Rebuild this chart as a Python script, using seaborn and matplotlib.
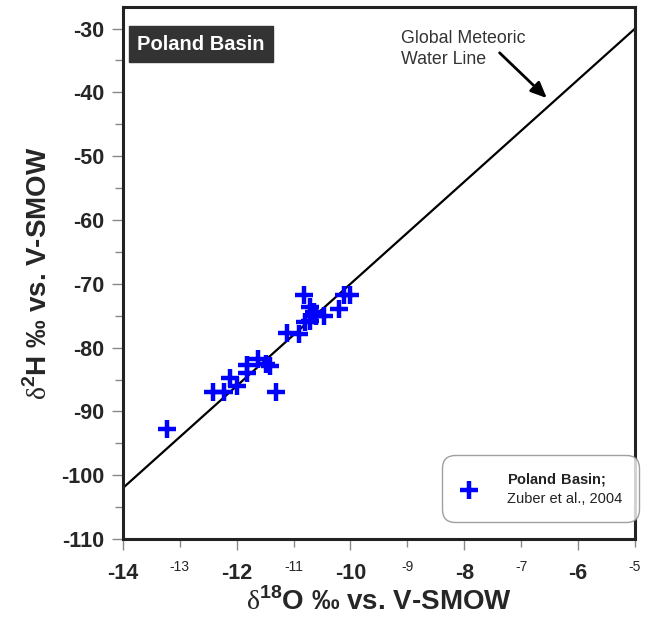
import matplotlib
matplotlib.use("Agg")
import matplotlib.pyplot as plt
import seaborn as sns
import pandas as pd

# d18O / d2H values (Poland Basin, Zuber et al., 2004)
d18o = [-13.23, -12.42, -12.23, -12.11, -12.00, -11.81, -11.81, -11.62, -11.49,
        -11.41, -11.31, -11.12, -10.90, -10.81, -10.71, -10.80, -10.71, -10.64,
        -10.61, -10.46, -10.20, -10.11, -10.00]
d2h = [-92.8, -86.9, -86.9, -84.7, -86.0, -82.7, -84.0, -81.7, -82.6,
       -82.9, -86.9, -77.7, -77.9, -71.8, -73.6, -76.0, -75.8, -74.4,
       -75.0, -75.0, -73.9, -71.8, -71.8]

# global meteoric water line end points
gmwl_x = [-14, -5]
gmwl_y = [-102, -30]

major_x = [-14, -12, -10, -8, -6]
minor_x = [-13, -11, -9, -7, -5]
major_y = [-110, -100, -90, -80, -70, -60, -50, -40, -30]
minor_y = [-105, -95, -85, -75, -65, -55, -45, -35]

df = pd.DataFrame({"d18O": d18o, "d2H": d2h})
line = pd.DataFrame({"x": gmwl_x, "y": gmwl_y})

sns.set_theme(style="white")
plt.rcParams["font.family"] = ["Liberation Sans", "DejaVu Sans"]
plt.rcParams["mathtext.fontset"] = "custom"
plt.rcParams["mathtext.bf"] = "Liberation Sans:bold"
plt.rcParams["mathtext.rm"] = "Liberation Serif"

fig = plt.figure(figsize=(6.5, 6.24), dpi=100)
ax = fig.add_axes([0.189, 0.136, 0.788, 0.853])

sns.lineplot(data=line, x="x", y="y", color="black", linewidth=1.6, ax=ax)
sns.scatterplot(data=df, x="d18O", y="d2H", marker="+", s=170, linewidth=3.2,
                color="#0000ff", ax=ax, zorder=3,
                label=r"$\bf{Poland\ Basin;}$" + "\nZuber et al., 2004")

ax.set_xlim(-14, -5)
ax.set_ylim(-110, -26.6)

ax.set_xticks(major_x)
ax.set_xticklabels([str(v) for v in major_x], fontsize=15.5, fontweight="bold")
ax.set_xticks(minor_x, minor=True)
ax.set_xticklabels([str(v) for v in minor_x], minor=True, fontsize=10)
ax.set_yticks(major_y)
ax.set_yticklabels([str(v) for v in major_y], fontsize=15.5, fontweight="bold")
ax.set_yticks(minor_y, minor=True)

ax.tick_params(axis="both", which="major", direction="out", length=8, width=1,
               color="#888888", bottom=True, left=True, pad=5.5)
ax.tick_params(axis="both", which="minor", direction="out", length=6, width=1,
               color="#888888", bottom=True, left=True)
ax.tick_params(axis="x", which="major", pad=9)
ax.tick_params(axis="x", which="minor", pad=9)

for s in ax.spines.values():
    s.set_linewidth(2.2)
    s.set_color("#222222")

ax.set_xlabel(r"$\mathrm{\delta}^{\mathbf{18}}$O ‰ vs. V-SMOW", fontsize=20,
              fontweight="bold", labelpad=3)
ax.set_ylabel(r"$\mathrm{\delta}^{\mathbf{2}}$H ‰ vs. V-SMOW", fontsize=20,
              fontweight="bold", labelpad=6)

ax.text(0.028, 0.93, "Poland Basin", transform=ax.transAxes, fontsize=14.5,
        fontweight="bold", color="white", va="center", ha="left",
        bbox=dict(boxstyle="square,pad=0.42", fc="#333333", ec="#333333"))

ax.text(-9.11, -33.2, "Global Meteoric\nWater Line", fontsize=12.8,
        color="#333333", ha="left", va="center", linespacing=1.25)
ax.annotate("", xy=(-6.55, -40.9), xytext=(-7.38, -33.8),
            arrowprops=dict(arrowstyle="-|>,head_length=0.8,head_width=0.35",
                            color="black", lw=2, shrinkA=0, shrinkB=0))

leg = ax.legend(loc="lower right", bbox_to_anchor=(1.01, 0.03), fontsize=10.5,
                frameon=True, fancybox=True, borderpad=0.9, handletextpad=1.9,
                handlelength=1.5, borderaxespad=0.3)
leg.get_frame().set_edgecolor("#888888")
leg.get_frame().set_linewidth(1.0)
leg.get_frame().set_boxstyle("round,pad=0.2,rounding_size=0.9")
for t in leg.get_texts():
    t.set_color("#222222")
    t.set_linespacing(1.3)

fig.savefig("out.png", dpi=100)
